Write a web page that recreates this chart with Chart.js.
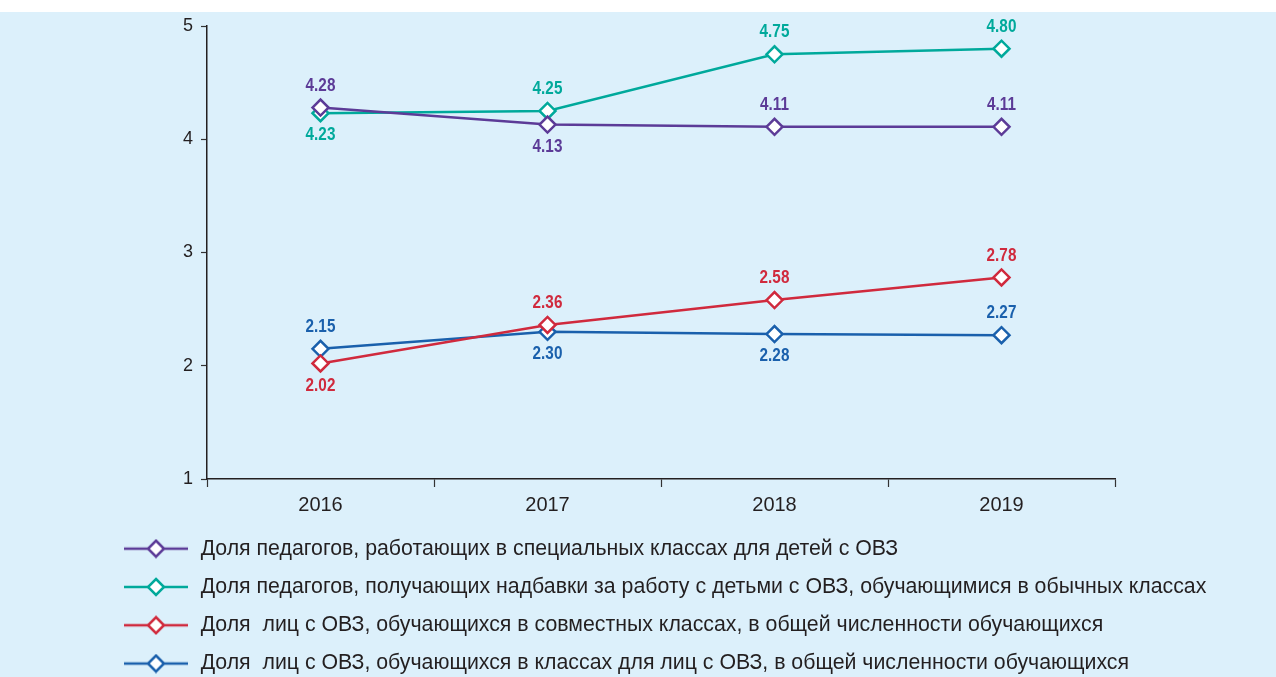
<!DOCTYPE html>
<html>
<head>
<meta charset="utf-8">
<script src="https://cdn.jsdelivr.net/npm/chart.js@4.4.1/dist/chart.umd.min.js"></script>
<style>
html,body{margin:0;padding:0;background:#ffffff;}
#wrap{position:relative;width:1276px;height:677px;}
</style>
</head>
<body>
<div id="wrap"><canvas id="c" width="1276" height="677"></canvas></div>
<script>
const categories = ['2016', '2017', '2018', '2019'];
const seriesNames = [
  'Доля педагогов, работающих в специальных классах для детей с ОВЗ',
  'Доля педагогов, получающих надбавки за работу с детьми с ОВЗ, обучающимися в обычных классах',
  'Доля  лиц с ОВЗ, обучающихся в совместных классах, в общей численности обучающихся',
  'Доля  лиц с ОВЗ, обучающихся в классах для лиц с ОВЗ, в общей численности обучающихся'
];
const specialClasses = [4.28, 4.13, 4.11, 4.11];
const bonusTeachers = [4.23, 4.25, 4.75, 4.80];
const jointClasses = [2.02, 2.36, 2.58, 2.78];
const ovzClasses = [2.15, 2.30, 2.28, 2.27];
// label placement: 1 = above the point, -1 = below
const specialPos = [1, -1, 1, 1];
const bonusPos = [-1, 1, 1, 1];
const jointPos = [-1, 1, 1, 1];
const ovzPos = [1, -1, -1, 1];
const yTicks = [1, 2, 3, 4, 5];

const colors = ['#5c3b97', '#00a99b', '#d02a3d', '#1a60ac'];
const FONT = '"Liberation Sans", Arial, sans-serif';

function legendSymbol(color) {
  const cv = document.createElement('canvas');
  cv.width = 66; cv.height = 20;
  const c = cv.getContext('2d');
  c.strokeStyle = color; c.lineWidth = 2.5;
  c.beginPath(); c.moveTo(1, 10); c.lineTo(65, 10); c.stroke();
  c.fillStyle = '#ffffff';
  c.beginPath(); c.moveTo(33, 2); c.lineTo(41, 10); c.lineTo(33, 18); c.lineTo(25, 10); c.closePath();
  c.fill(); c.stroke();
  return cv;
}

function ds(label, data, color, pos) {
  return {
    label, data,
    borderColor: color, backgroundColor: '#ffffff',
    borderWidth: 2.5,
    pointStyle: 'rectRot', pointRadius: 8, pointHoverRadius: 8,
    pointBorderWidth: 2.5, pointBackgroundColor: '#ffffff', pointBorderColor: color,
    tension: 0, labelPos: pos, legendImg: legendSymbol(color)
  };
}

const bgPlugin = {
  id: 'bg',
  beforeDraw(chart) {
    const ctx = chart.ctx;
    ctx.save();
    ctx.fillStyle = '#dcf0fb';
    ctx.fillRect(0, 12, chart.width, chart.height - 12);
    ctx.restore();
  }
};

const labelPlugin = {
  id: 'valueLabels',
  afterDatasetsDraw(chart) {
    const ctx = chart.ctx;
    chart.data.datasets.forEach((d, i) => {
      const meta = chart.getDatasetMeta(i);
      meta.data.forEach((pt, j) => {
        const dy = d.labelPos[j] > 0 ? -22 : 22;
        ctx.save();
        ctx.font = 'bold 18px ' + FONT;
        ctx.textAlign = 'center';
        ctx.textBaseline = 'middle';
        ctx.fillStyle = d.borderColor;
        ctx.translate(pt.x, pt.y + dy);
        ctx.scale(0.85, 1.03);
        ctx.fillText(d.data[j].toFixed(2), 0, 0);
        ctx.restore();
      });
    });
  }
};

new Chart(document.getElementById('c'), {
  type: 'line',
  data: {
    labels: categories,
    datasets: [
      ds(seriesNames[0], specialClasses, colors[0], specialPos),
      ds(seriesNames[1], bonusTeachers, colors[1], bonusPos),
      ds(seriesNames[2], jointClasses, colors[2], jointPos),
      ds(seriesNames[3], ovzClasses, colors[3], ovzPos)
    ]
  },
  options: {
    responsive: false,
    animation: false,
    layout: { padding: { left: 105, right: 0, top: 26, bottom: 0 } },
    plugins: {
      tooltip: { enabled: false },
      legend: {
        position: 'bottom',
        align: 'start',
        maxHeight: 156,
        labels: {
          usePointStyle: true,
          pointStyleWidth: 68,
          padding: 17,
          color: '#231f20',
          font: { family: FONT, size: 21.3 },
          generateLabels(chart) {
            return chart.data.datasets.map((d, i) => ({
              text: d.label,
              pointStyle: d.legendImg,
              fillStyle: '#ffffff',
              strokeStyle: d.borderColor,
              lineWidth: 0,
              hidden: false,
              datasetIndex: i,
              fontColor: '#231f20'
            }));
          }
        }
      }
    },
    scales: {
      x: {
        offset: true,
        grid: { display: true, drawOnChartArea: false, offset: true, drawTicks: true, tickLength: 8, tickColor: '#333333', tickWidth: 1.2 },
        border: { display: true, color: '#231f20', width: 1.5 },
        ticks: { color: '#231f20', font: { family: FONT, size: 20 }, padding: 6 },
        afterFit(scale) { scale.height = 42; }
      },
      y: {
        min: 1, max: 5,
        afterBuildTicks(scale) { scale.ticks = yTicks.map(v => ({ value: v })); },
        grid: { display: true, drawOnChartArea: false, drawTicks: true, tickLength: 6, tickColor: '#333333', tickWidth: 1.2 },
        border: { display: true, color: '#231f20', width: 1.5 },
        ticks: { color: '#231f20', font: { family: FONT, size: 18 }, padding: 8 },
        afterFit(scale) { scale.width = 102; }
      },
      yRight: {
        position: 'right',
        min: 1, max: 5,
        display: true,
        grid: { display: false, drawTicks: false },
        border: { display: false },
        ticks: { display: false },
        afterFit(scale) { scale.width = 161; }
      }
    }
  },
  plugins: [bgPlugin, labelPlugin]
});
</script>
</body>
</html>
